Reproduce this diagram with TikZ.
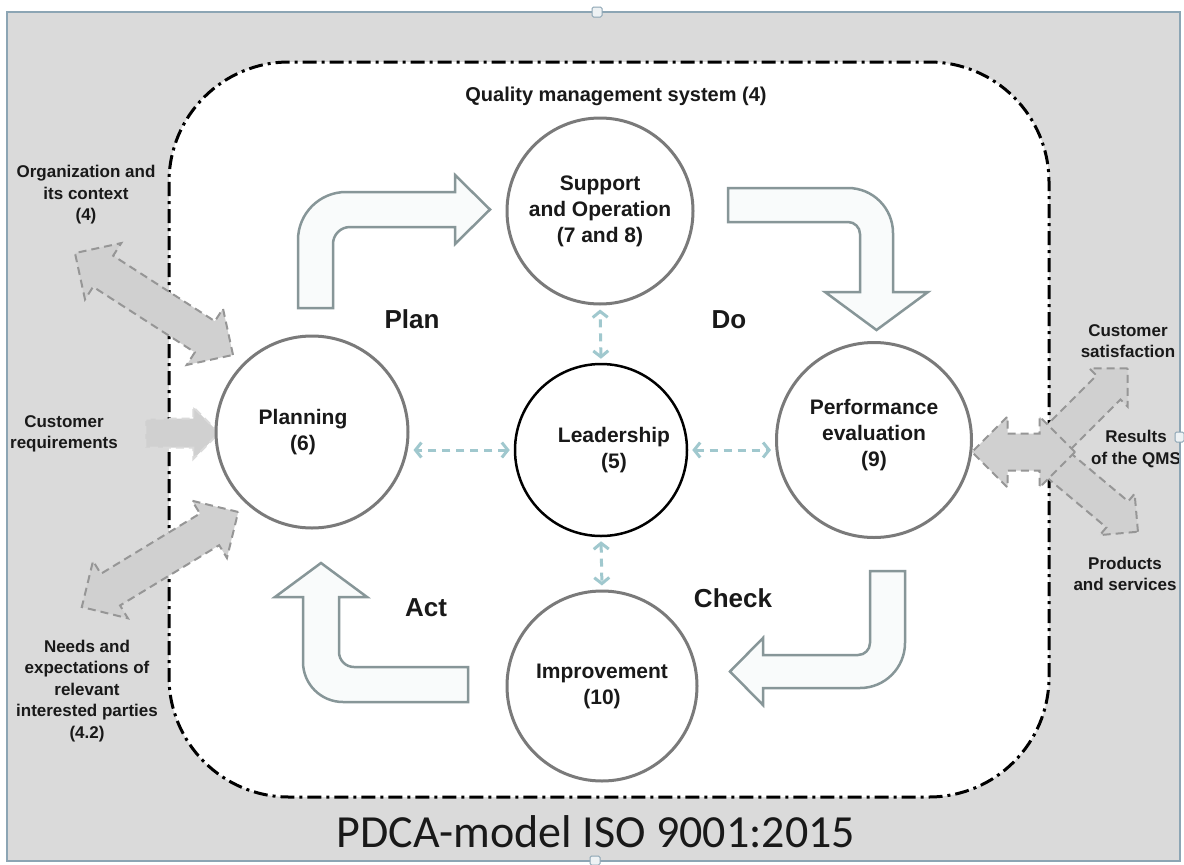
\documentclass[tikz,border=0pt]{standalone}
\usepackage{fontspec}
\setmainfont{Liberation Sans}
\newfontfamily\titlefont{Carlito}
\usepackage{tikz}
\usetikzlibrary{arrows,arrows.meta,shapes,positioning}

\definecolor{bggray}{RGB}{218,218,218}
\definecolor{framecol}{RGB}{140,165,180}
\definecolor{circgray}{RGB}{122,122,122}
\definecolor{pdcaline}{RGB}{135,150,152}
\definecolor{pdcafill}{RGB}{249,251,251}
\definecolor{extline}{RGB}{150,150,150}
\definecolor{extfill}{RGB}{208,208,208}
\definecolor{linkblue}{RGB}{160,200,206}
\definecolor{txt}{RGB}{25,25,25}

\tikzstyle{stageText} = [align = center, text = txt, font = \fontsize{21}{26}\selectfont\bfseries]
\tikzstyle{stage} = [stageText, shape = circle, draw = circgray, line width = 3pt, fill = white, inner sep = 0pt]
\tikzstyle{core} = [stage, draw = black, line width = 2.5pt]
\tikzstyle{sideText} = [align = center, text = txt, font = \fontsize{17}{21.5}\selectfont\bfseries]
\tikzstyle{phase} = [text = txt, font = \fontsize{26}{30}\selectfont\bfseries]
\tikzstyle{bigArrow} = [draw = pdcaline, fill = pdcafill, line width = 2.5pt]
\tikzstyle{extArrow} = [draw = extline, fill = extfill, line width = 2pt, dash pattern = on 8pt off 5pt, inner xsep = 0pt]
\tikzstyle{twoWay} = [extArrow, shape = double arrow, inner ysep = 17.5pt, double arrow head extend = 15pt]
\tikzstyle{oneWay} = [extArrow, shape = single arrow, inner ysep = 13.5pt, single arrow head extend = 11.5pt]
\tikzstyle{leadLink} = [{Straight Barb[length=6pt, width=15pt]}-{Straight Barb[length=6pt, width=15pt]}, draw = linkblue, line width = 3pt, dash pattern = on 8pt off 6pt, shorten <=4pt, shorten >=4pt]

\begin{document}
\begin{tikzpicture}[x=1pt, y=1pt]
	\useasboundingbox (0,0) rectangle (1184,-865);
	\fill[white] (0,0) rectangle (1184,-865);
	\fill[bggray] (7,-12) rectangle (1180,-861);
	% QMS boundary
	\draw[black, line width = 3pt, dash pattern = on 14pt off 5pt on 3pt off 5pt, fill = white, rounded corners = 120pt] (169,-62) rectangle (1049,-797);

	\node (qms) [stageText, font = \fontsize{20}{24}\selectfont\bfseries] at (616,-96) {Quality management system (4)};

	% outside inputs and outputs
	\node (orgArrow) [twoWay, rotate = -32.8, minimum height = 188pt] at (154,-304) {};
	\node (needsArrow) [twoWay, rotate = 31.3, minimum height = 183pt] at (160,-559.5) {};
	\node (reqArrow) [oneWay, draw = extline!35, minimum height = 74pt] at (175,-433) {};
	\node (satArrow) [oneWay, rotate = 45, minimum height = 112pt, inner ysep = 16pt, single arrow head extend = 10pt] at (1082,-414) {};
	\node (prodArrow) [oneWay, rotate = -40, minimum height = 116pt, inner ysep = 16pt, single arrow head extend = 10pt] at (1087,-489) {};
	\node (resArrow) [twoWay, minimum height = 103pt, double arrow head extend = 17pt] at (1023.5,-452) {};

	\node (org) [sideText] at (86,-195) {Organization and\\its context\\(4)};
	\node (req) [sideText] at (64,-434) {Customer\\requirements};
	\node (needs) [sideText] at (87,-691) {Needs and\\expectations of\\relevant\\interested parties\\(4.2)};
	\node (sat) [sideText] at (1128,-341) {Customer\\satisfaction};
	\node (res) [sideText] at (1136,-449) {Results\\of the QMS};
	\node (prod) [sideText] at (1125,-574) {Products\\and services};

	% stages
	\node (supp) [stage, minimum size = 186pt] at (600,-211) {Support\\and Operation\\(7 and 8)};
	\node (lead) [core, minimum size = 172pt, label = {[stageText, xshift = 13pt]center:Leadership\\(5)}] at (601,-450) {};
	\node (plan) [stage, minimum size = 192pt, label = {[stageText, xshift = -9pt]center:Planning\\(6)}] at (312,-432) {};
	\node (perf) [stage, minimum size = 195pt, label = {[stageText, yshift = 5pt]center:Performance\\evaluation\\(9)}] at (874,-440) {};
	\node (impr) [stage, minimum size = 190pt] at (602,-686) {Improvement\\(10)};

	\draw[leadLink] (lead.north) -- (supp.south);
	\draw[leadLink] (lead.south) -- (impr.north);
	\draw[leadLink] (lead.west) -- (lead.west -| plan.east);
	\draw[leadLink] (lead.east) -- (lead.east -| perf.west);

	% PDCA arrows
	\draw[bigArrow] (298,-308) -- (298,-240) arc[start angle = 180, end angle = 90, radius = 48] -- (455,-192) -- (455,-175) -- (490,-209.5) -- (455,-244) -- (455,-227) -- (350,-227) arc[start angle = 90, end angle = 180, radius = 17] -- (333,-308) -- cycle;
	\draw[bigArrow] (728,-188) -- (848,-188) arc[start angle = 90, end angle = 0, radius = 45] -- (893,-292) -- (928,-292) -- (876.5,-330) -- (825,-292) -- (860,-292) -- (860,-234) arc[start angle = 0, end angle = 90, radius = 12] -- (728,-222) -- cycle;
	\draw[bigArrow] (870,-571) -- (905,-571) -- (905,-643) arc[start angle = 0, end angle = -90, radius = 45] -- (763,-688) -- (763,-705) -- (730,-671.5) -- (763,-638) -- (763,-655) -- (858,-655) arc[start angle = -90, end angle = 0, radius = 12] -- cycle;
	\draw[bigArrow] (468,-667) -- (354,-667) arc[start angle = 270, end angle = 180, radius = 15] -- (339,-597) -- (367,-597) -- (321,-563) -- (275,-597) -- (303,-597) -- (303,-662) arc[start angle = 180, end angle = 270, radius = 40] -- (468,-702) -- cycle;

	\node (planLbl) [phase] at (412,-319) {Plan};
	\node (doLbl) [phase] at (729,-320) {Do};
	\node (checkLbl) [phase] at (733,-598) {Check};
	\node (actLbl) [phase] at (426,-608) {Act};

	\node (title) [text = txt, font = \titlefont\fontsize{46}{50}\selectfont] at (596,-832) {PDCA-model ISO 9001:2015};

	% frame and handles
	\draw[framecol, line width = 2.5pt] (7,-12) rectangle (1180,-861);
	\filldraw[fill = white!85!framecol, draw = framecol, line width = 1pt, rounded corners = 1.5pt] (592,-7) rectangle (602,-17);
	\filldraw[fill = white!85!framecol, draw = framecol, line width = 1pt, rounded corners = 1.5pt] (1175,-432) rectangle (1184,-442);
	\filldraw[fill = white!85!framecol, draw = framecol, line width = 1pt, rounded corners = 1.5pt] (590,-856) rectangle (600,-865);
\end{tikzpicture}
\end{document}
